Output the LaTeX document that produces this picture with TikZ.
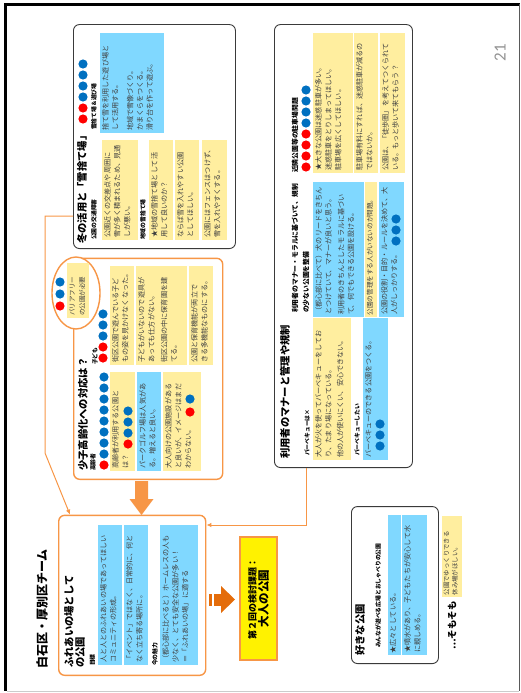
\documentclass[tikz,border=0pt]{standalone}
\usepackage{fontspec}
\setmainfont{Noto Sans CJK JP}
\newfontfamily\numfont{Carlito}
\usetikzlibrary{arrows.meta,calc,shapes.geometric}
\definecolor{ylw}{HTML}{FFEE9F}
\definecolor{blu}{HTML}{80D8FF}
\definecolor{org}{HTML}{F79646}
\definecolor{dorg}{HTML}{E46C0A}
\definecolor{rdot}{HTML}{FF0000}
\definecolor{bdot}{HTML}{0070C0}
\definecolor{edge}{HTML}{3A3A3A}
\definecolor{txtc}{HTML}{404040}
% image coords (x right, y down) -> slide coords (-y,-x) inside rotated scope
\newcommand\mybox[8][]{%
  \pgfmathsetmacro\bxw{#7-#6}\pgfmathsetmacro\bxh{#5-#4}\pgfmathsetmacro\bxt{#7-#6-4}%
  \node[#3, minimum width=\bxw pt, minimum height=\bxh pt] (#2) at (-#7,-#4) {};%
  \node[txt, text width=\bxt pt, #1] (#2t) at (#2.north west) {#8};}
\newcommand\myrbox[6]{%
  \pgfmathsetmacro\bxw{#6-#5}\pgfmathsetmacro\bxh{#4-#3}%
  \node[#2, minimum width=\bxw pt, minimum height=\bxh pt] (#1) at (-#6,-#3) {};}
\newcommand\mylab[5]{\node[#2] (#1) at (-#4,-#3) {#5};}
\newcommand\mydot[3]{\fill[#1] (-#3,-#2) circle (4.6);}
\begin{document}
\begin{tikzpicture}[x=1pt,y=1pt,
  ybox/.style={fill=ylw,inner sep=0,anchor=north west},
  bbox/.style={fill=blu,inner sep=0,anchor=north west},
  txt/.style={font=\fontsize{7.1}{9.8}\selectfont,inner sep=2pt,align=left,anchor=north west,text=txtc},
  obox/.style={draw=org,line width=1.4pt,rounded corners=6pt,inner sep=0,anchor=north west,fill=white},
  kbox/.style={draw=edge,line width=0.9pt,rounded corners=6pt,inner sep=0,anchor=north west,fill=white},
  big/.style={font=\bfseries\fontsize{12}{14}\selectfont,inner sep=0,anchor=west},
  ttl/.style={font=\bfseries\fontsize{10.3}{12}\selectfont,inner sep=0,anchor=west},
  ttls/.style={font=\bfseries\fontsize{9.5}{11}\selectfont,inner sep=0,anchor=west},
  sub/.style={font=\bfseries\fontsize{5.8}{7}\selectfont,inner sep=0,anchor=west},
  subb/.style={font=\bfseries\fontsize{6.8}{8}\selectfont,inner sep=0,anchor=west},
  oline/.style={draw=org,line width=1pt,-{Latex[length=5pt,width=4.5pt]}},
]
\begin{scope}[rotate=90,transform shape]
\useasboundingbox (0,0) rectangle (-693,-521);
% slide frame
\draw[black,line width=2.2pt] (-4.5,-4) -- (-4.5,-519.5);
\draw[black,line width=2.5pt] (-3.5,-5.5) -- (-691,-5.5);
\draw[gray!70!black,line width=0.8pt] (-4,-519) -- (-691,-519);
\draw[gray!40,line width=0.8pt] (-691,-6.5) -- (-691,-519);
\node[font=\numfont\fontsize{17}{17}\selectfont,text=gray!85,inner sep=0] (pg) at (-53,-500) {21};

% ---------- big boxes ----------
\myrbox{A}{obox}{58}{205}{516}{676}
\myrbox{B}{obox}{73}{222}{259}{480}
\myrbox{C}{kbox}{73}{235}{25}{249}
\myrbox{D}{kbox}{274}{412}{25}{468}
\myrbox{E}{kbox}{351}{438}{507}{664}

% ---------- Box A ----------
\mylab{Aa}{big}{42}{669}{白石区・厚別区チーム}
\mylab{Ab}{ttl}{69}{668}{ふれあいの場として}
\mylab{Ac}{ttl}{80}{668}{の公園}
\mylab{Ad}{sub}{92.5}{666}{目標}
\mybox{A1}{bbox}{98}{122}{525}{665}{人と人とのふれあいの場であってほしい\\コミュニティの形成。}
\mybox{A2}{bbox}{124}{148}{525}{665}{「イベント」ではなく、日常的に、何と\\なく立ち寄る場所に。}
\mylab{Ae}{sub}{155}{666}{今の魅力}
\mybox{A3}{bbox}{160}{198}{525}{665}{（都心部に比べると）ホームレスの人も\\少なく、とても安全な公園が多い！\\＝「ふれあいの場」に適する}

% ---------- arrows to A ----------
\fill[org] (-481,-135) -- (-481,-148) -- (-499,-148) -- (-499,-153.5) -- (-515,-141.5) -- (-499,-129.5) -- (-499,-135) -- cycle;
\fill[dorg] (-593.5,-209) rectangle (-605.5,-211.5);
\fill[dorg] (-593.5,-213.5) rectangle (-605.5,-221);
\fill[dorg] (-586,-221) -- (-599.5,-235) -- (-613,-221) -- cycle;

% ---------- 第2回 ----------
\node[draw=org,line width=1.2pt,fill=yellow,minimum width=123pt,minimum height=37pt,align=center,inner sep=0] (T2) at (-598.5,-258.5)
  {\bfseries\fontsize{9}{13}\selectfont 第２回の検討課題：\\\bfseries\fontsize{11.5}{13}\selectfont 大人の公園};

% ---------- Box B ----------
\node[ellipse,draw=org,line width=1.4pt,fill=white,minimum width=72pt,minimum height=48pt,inner sep=0] (Ov) at (-293,-76) {};
\mybox[font=\fontsize{6.5}{10}\selectfont]{O1}{ybox}{67}{89}{263}{318}{バリアフリー\\の公園が必要}
\mydot{rdot}{60}{306}\mydot{bdot}{60}{294}\mydot{bdot}{60}{282}
\mylab{Ba}{ttl}{83}{471}{少子高齢化への対応は？}
\mylab{Bb}{sub}{93}{471}{高齢者}
\mydot{rdot}{104}{465}
\foreach \yy in {454,443,...,377} {\mydot{bdot}{104}{\yy}}
\mylab{Bc}{sub}{95}{365}{子ども}
\mydot{rdot}{103}{358}\mydot{rdot}{103}{347}
\mydot{bdot}{103}{336}\mydot{bdot}{103}{325}\mydot{bdot}{103}{314}
\mybox{B1}{ybox}{110}{135}{372}{471}{高齢者が利用する公園と\\は？}
\mydot{rdot}{128}{444}\mydot{bdot}{128}{433}\mydot{bdot}{128}{422}\mydot{bdot}{128}{411}
\mybox{B2}{bbox}{137}{161}{372}{471}{パークゴルフ場は人気があ\\る。増えると良い。}
\mybox{B3}{ybox}{163}{201}{372}{471}{大人向けの公園施設がある\\と良いが、イメージはまだ\\わからない。}
\mydot{rdot}{190}{412}\mydot{bdot}{190}{399}
\mybox{B4}{ybox}{110}{134}{266}{365}{街区公園で遊んでいる子ど\\もの姿を見かけなくなった。}
\mybox{B5}{ybox}{136}{187}{266}{365}{子どもがいないので遊具が\\あっても仕方がない。\\[3pt]街区公園の中に保育園を建\\てる。}
\mybox{B6}{ybox}{189}{213}{266}{365}{公園と保育機能が両立で\\きる多機能なものにする。}

% ---------- Box C ----------
\mylab{Ca}{ttl}{82}{244}{冬の活用と「雪捨て場」}
\mydot{rdot}{83}{119}\mydot{rdot}{83}{108}
\mydot{bdot}{83}{97}\mydot{bdot}{83}{86}\mydot{bdot}{83}{75}\mydot{bdot}{83}{64}
\mylab{Cb}{sub}{94}{240}{公園の交通障害}
\mylab{Cc}{sub}{94}{130}{雪捨て場＆遊び場}
\mybox{C0}{bbox}{100}{164}{33}{133}{捨て雪を利用した遊び場と\\して活用する。\\[5pt]地域で雪像づくり。\\かまくらをつくる。\\滑り台を作って遊ぶ。}
\mybox{C1}{ybox}{102}{138}{140}{240}{公園近くの交差点や周囲に\\雪が多く積まれるため、見通\\しが悪い。}
\mylab{Cd}{sub}{143}{240}{地域の雪捨て場}
\mybox{C2}{ybox}{149}{173}{140}{240}{★地域の雪捨て場として活\\用して良いのか？}
\mybox{C3}{ybox}{175}{199}{140}{240}{ならば雪を入れやすい公園\\としてほしい。}
\mybox{C4}{ybox}{202}{227}{140}{240}{公園にはフェンスはつけず、\\雪を入れやすくする。}

% ---------- Box D ----------
\mylab{Da}{ttl}{285}{459}{利用者のマナーと管理や規制}
\mylab{Db}{sub}{307}{456}{バーベキューは×}
\mybox{D4}{ybox}{313}{351}{318}{460}{大人が火を使ってバーベキューをしてお\\り、たまり場になっている。\\[2pt]他の人が使いにくい、安心できない。}
\mylab{Dc}{sub}{357}{456}{バーベキューしたい}
\mybox{D5}{bbox}{363}{388}{318}{460}{バーベキューのできる公園をつくる。}
\mydot{bdot}{380}{446}\mydot{bdot}{380}{435}\mydot{bdot}{380}{424}
\mylab{Dd}{subb}{295}{313}{利用者のマナー・モラルに基づいて、規制}
\mylab{De}{subb}{306}{313}{の少ない公園を整備}
\mybox{D1}{bbox}{313}{364}{182}{317}{（都心部に比べて）犬のリードをきちん\\とつけていて、マナーが良いと思う。\\[3pt]利用者のきちんとしたモラルに基づい\\て、何でもできる公園を設ける。}
\mybox[font=\fontsize{6.6}{8}\selectfont,inner sep=1.5pt]{D2}{ybox}{365}{377}{182}{317}{公園の管理をする人がいないのが問題。}
\mybox{D3}{bbox}{379}{404}{182}{317}{公園の役割・目的・ルールを決めて、大\\人がしっかりする。}
\mydot{bdot}{396}{241}\mydot{bdot}{396}{230}\mydot{bdot}{396}{219}
\mylab{Df}{subb}{295}{173}{近隣公園等の駐車場問題}
\foreach \yy in {167,156,145,134} {\mydot{rdot}{306}{\yy}}
\foreach \yy in {123,112,101,90} {\mydot{bdot}{306}{\yy}}
\mybox{D6}{ybox}{313}{353}{33}{173}{★大きな公園は迷惑駐車が多い。\\迷惑駐車をとりしまってほしい。\\駐車場を広くしてほしい。}
\mybox{D7}{ybox}{354}{378}{33}{173}{駐車場有料にすれば、迷惑駐車が減るの\\ではないか。}
\mybox{D8}{ybox}{380}{405}{33}{173}{公園は、「徒歩圏」を考えてつくられて\\いる。もっと歩いて来てもらう？}

% ---------- Box E ----------
\mylab{Ea}{ttl}{360}{656}{好きな公園}
\mylab{Eb}{sub}{378}{648}{みんなが遊べる広場とおしゃべりの公園}
\mybox[inner sep=1.5pt]{E1}{bbox}{388}{401}{515}{655}{★広々としている。}
\mybox{E2}{bbox}{402}{427}{515}{655}{★噴水があり、子どもたちが安心して水\\に親しめる。}
\mybox[font=\fontsize{6.4}{8.5}\selectfont,inner sep=1.5pt]{F1}{ybox}{442}{462}{516}{597}{公園でゆっくりできる\\休み場がほしい。}
\mylab{Fa}{ttls}{452}{650}{…そもそも}

% ---------- connectors (|- works in the rotated slide frame) ----------
\coordinate (k1) at (-216,-45);
\coordinate (k2) at (-453,-45);
\draw[oline] (k1 |- C.north) -- (k1) -- (k2) -- ($(A.north east)+(0,-12)$);
\coordinate (k4) at (-525,-306);
\draw[oline] (D.west |- k4) -- (k4) -- (k4 |- A.south);
\end{scope}
\end{tikzpicture}
\end{document}
